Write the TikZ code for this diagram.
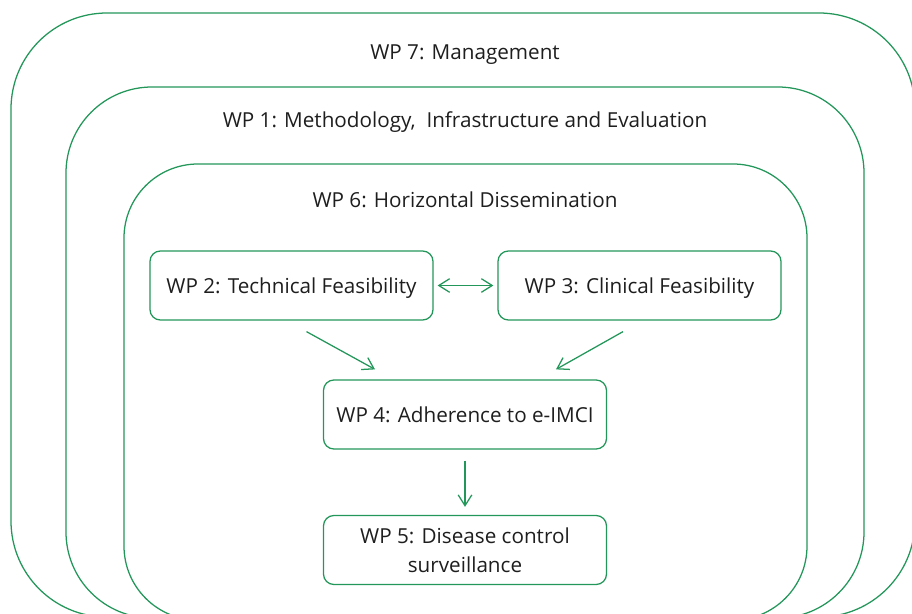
\documentclass[tikz,border=0pt]{standalone}
\usepackage{fontspec}
\setmainfont{Open Sans}
\usepackage{xcolor}
\usetikzlibrary{arrows.meta}
\definecolor{wpgreen}{RGB}{35,150,90}
\definecolor{wptext}{RGB}{30,30,30}

\begin{document}
\begin{tikzpicture}[x=0.25mm, y=-0.25mm, font=\fontsize{14.7}{20.8}\selectfont, text=wptext,
  frame/.style={wpgreen, line width=0.9pt},
  title/.style={text depth=0pt},
  wpbox/.style={draw=wpgreen, line width=0.9pt, rounded corners=2.6mm, minimum width=70.75mm, minimum height=17.25mm, align=center, inner sep=0pt, text depth=0pt},
  flow/.style={wpgreen, line width=0.9pt, -{Straight Barb[length=2.7mm, width=3.4mm]}}]
\useasboundingbox (0,0) rectangle (912,614);
\clip (0,0) rectangle (912,614);
% Nested work packages, cut off at the bottom
\draw[frame, rounded corners=24mm] (11,13) rectangle (915,617);
\draw[frame, rounded corners=21.5mm] (66,87) rectangle (864,618);
\draw[frame, rounded corners=18.5mm] (124,164) rectangle (807,620);
\node[title] (t7) at (465,52) {WP 7: Management};
\node[title] (t1) at (465,120) {WP 1: Methodology,\ \ Infrastructure and Evaluation};
\node[title] (t6) at (465,200) {WP 6: Horizontal Dissemination};
% Inner work packages
\node[wpbox] (wp2) at (291.5,285.5) {WP 2: Technical Feasibility};
\node[wpbox] (wp3) at (639.5,285.5) {WP 3: Clinical Feasibility};
\node[wpbox] (wp4) at (465,414.5) {WP 4: Adherence to e-IMCI};
\node[wpbox] (wp5) at (465,550) {WP 5: Disease control\\surveillance};
% Dependencies between them
\draw[flow, {Straight Barb[length=2.7mm, width=3.4mm]}-{Straight Barb[length=2.7mm, width=3.4mm]}, shorten <=1mm, shorten >=1mm] (wp2) -- (wp3);
\draw[flow] ([shift={(15,11)}]wp2.south) -- ([shift={(-90,-10)}]wp4.north);
\draw[flow] ([shift={(-16.5,11)}]wp3.south) -- ([shift={(91,-10)}]wp4.north);
\draw[flow, shorten <=2.75mm, shorten >=2mm] (wp4) -- (wp5);
\end{tikzpicture}
\end{document}
